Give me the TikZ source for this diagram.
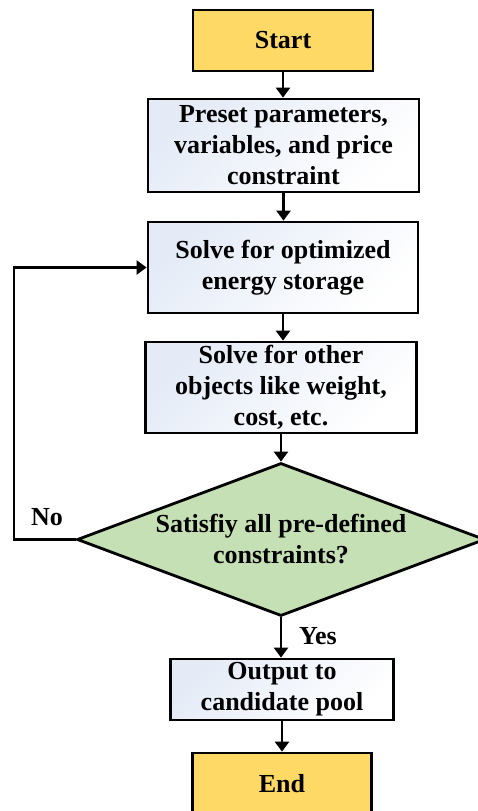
\documentclass[tikz,border=0pt]{standalone}
\usepackage{fontspec}
\setmainfont{Liberation Serif}
\usetikzlibrary{shapes.geometric,arrows.meta}

\definecolor{termfill}{RGB}{255,217,102}
\definecolor{decfill}{RGB}{197,224,180}
\definecolor{procshade}{RGB}{228,235,247}

\tikzset{
  base/.style={draw=black, line width=2.8pt, align=center, inner sep=2pt,
    font=\fontsize{26}{31}\selectfont\bfseries},
  terminal/.style={base, rectangle, fill=termfill},
  process/.style={base, rectangle, top color=procshade, bottom color=white, shading angle=45},
  decision/.style={base, diamond, fill=decfill, inner sep=0pt, shape aspect=2.67},
  flow/.style={line width=2.6pt, -{Triangle[width=14pt,length=10pt]}},
  tag/.style={font=\fontsize{26}{31}\selectfont\bfseries}
}

\begin{document}
\begin{tikzpicture}[x=1pt,y=1pt]
  \useasboundingbox (0,0) rectangle (478,-811);

  \node[terminal, minimum width=180pt, minimum height=61pt] (start) at (283,-40.5) {Start};
  \node[process, minimum width=271pt, minimum height=93pt] (preset) at (283.5,-145.5)
    {Preset parameters,\\variables, and price\\constraint};
  \node[process, minimum width=270pt, minimum height=91pt] (solve) at (283,-267.5)
    {Solve for optimized\\energy storage};
  \node[process, minimum width=271pt, minimum height=91pt] (other) at (281,-387.5)
    {Solve for other\\objects like weight,\\cost, etc.};
  \node[decision, minimum width=408pt, minimum height=153pt] (check) at (281,-539.5)
    {Satisfiy all pre-defined\\constraints?};
  \node[process, minimum width=223pt, minimum height=61pt] (output) at (282,-689.5)
    {Output to\\candidate pool};
  \node[terminal, minimum width=179pt, minimum height=61pt] (end) at (282,-783.5) {End};

  \coordinate (loopbottom) at (14,-539.5);
  \coordinate (looptop) at (14,-267.5);

  \draw[flow] (start.south) -- (start.south |- preset.north);
  \draw[flow] (preset.south) -- (preset.south |- solve.north);
  \draw[flow] (solve.south) -- (solve.south |- other.north);
  \draw[flow] (other.south) -- (other.south |- check.north);
  \draw[flow] (check.south) -- (check.south |- output.north);
  \draw[flow] (output.south) -- (output.south |- end.north);
  \draw[flow] (check.west) -- (loopbottom) -- (looptop) -- (solve.west);

  \node[tag] (nolabel) at (47,-517) {No};
  \node[tag] (yeslabel) at (318,-636) {Yes};
\end{tikzpicture}
\end{document}
